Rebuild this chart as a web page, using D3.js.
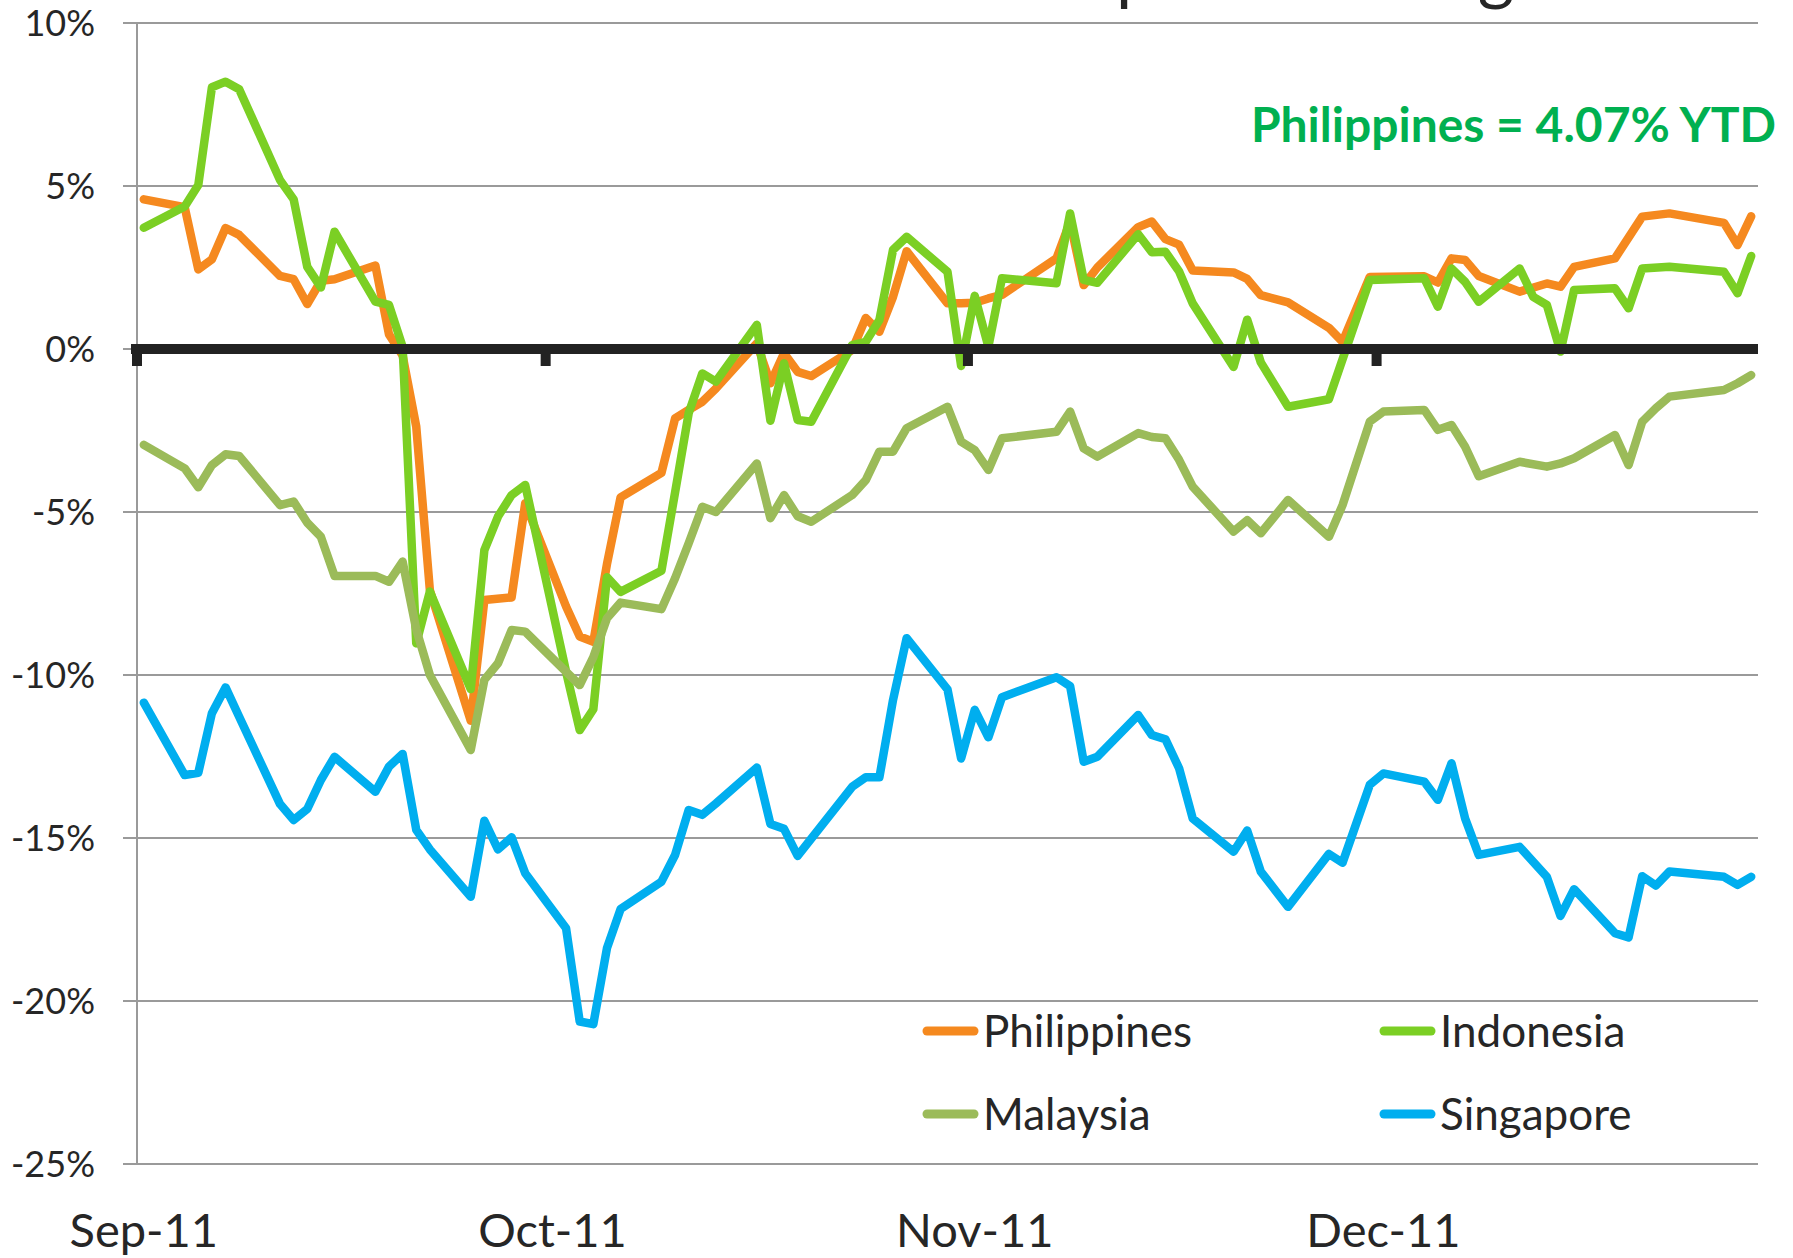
<!DOCTYPE html>
<html>
<head>
<meta charset="utf-8">
<script src="https://cdn.jsdelivr.net/npm/d3@7"></script>
<style>
  html, body { margin: 0; padding: 0; background: #ffffff; }
  svg { display: block; }
  text { font-family: Lato, "Open Sans", sans-serif; }
</style>
</head>
<body>
<svg id="chart" width="1793" height="1258"></svg>
<script>
// ---------------- DATA ----------------
const dates = [
  "2011-09-02","2011-09-05","2011-09-06","2011-09-07","2011-09-08","2011-09-09",
  "2011-09-12","2011-09-13","2011-09-14","2011-09-15","2011-09-16",
  "2011-09-19","2011-09-20","2011-09-21","2011-09-22","2011-09-23",
  "2011-09-26","2011-09-27","2011-09-28","2011-09-29","2011-09-30",
  "2011-10-03","2011-10-04","2011-10-05","2011-10-06","2011-10-07",
  "2011-10-10","2011-10-11","2011-10-12","2011-10-13","2011-10-14",
  "2011-10-17","2011-10-18","2011-10-19","2011-10-20","2011-10-21",
  "2011-10-24","2011-10-25","2011-10-26","2011-10-27","2011-10-28",
  "2011-10-31","2011-11-01","2011-11-02","2011-11-03","2011-11-04",
  "2011-11-07","2011-11-08","2011-11-09","2011-11-10","2011-11-11",
  "2011-11-14","2011-11-15","2011-11-16","2011-11-17","2011-11-18",
  "2011-11-21","2011-11-22","2011-11-23","2011-11-24","2011-11-25",
  "2011-11-28","2011-11-29","2011-11-30","2011-12-01","2011-12-02",
  "2011-12-05","2011-12-06","2011-12-07","2011-12-08","2011-12-09",
  "2011-12-12","2011-12-13","2011-12-14","2011-12-15","2011-12-16",
  "2011-12-19","2011-12-20","2011-12-21","2011-12-22","2011-12-23",
  "2011-12-27","2011-12-28","2011-12-29"
];

// values in % (null = no observation on that day)
const philippines = [
  4.59, 4.35, 2.44, 2.75, 3.71, 3.50,
  2.24, 2.14, 1.38, 2.09, 2.14,
  2.56, 0.45, -0.20, -2.38, -7.40,
  -11.40, -7.70, null, -7.62, -4.73,
  -7.90, -8.82, -8.98, -6.60, -4.55,
  -3.80, -2.13, -1.87, -1.62, -1.21,
  0.17, -1.05, -0.13, -0.70, -0.83,
  -0.03, 0.95, 0.53, 1.60, 3.00,
  1.40, 1.40, 1.42, 1.55, 1.66,
  null, 2.78, 3.90, 1.96, 2.50,
  3.74, 3.91, 3.37, 3.20, 2.41,
  2.35, 2.15, 1.65, null, 1.43,
  0.65, 0.22, null, 2.21, null,
  2.23, 2.04, 2.78, 2.73, 2.24,
  1.76, null, 2.01, 1.91, 2.52,
  2.78, null, 4.06, null, 4.16,
  3.87, 3.19, 4.07
];
const indonesia = [
  3.72, 4.37, 5.03, 8.03, 8.20, 7.97,
  5.18, 4.59, 2.52, 1.89, 3.60,
  1.45, 1.35, 0.07, -9.03, -7.44,
  -10.43, -6.17, -5.14, -4.48, -4.17,
  -9.90, -11.69, -11.05, -7.00, -7.45,
  -6.80, -4.40, -1.97, -0.75, -1.00,
  0.74, -2.20, -0.44, -2.18, -2.23,
  0.12, 0.22, 0.89, 3.04, 3.44,
  2.37, -0.52, 1.63, 0.07, 2.17,
  null, 2.02, 4.16, 2.12, 2.03,
  3.52, 2.97, 2.98, 2.38, 1.40,
  -0.55, 0.90, -0.41, null, -1.77,
  -1.54, null, null, 2.12, null,
  2.17, 1.30, 2.47, 2.06, 1.45,
  2.47, 1.60, 1.35, -0.08, 1.81,
  1.86, 1.25, 2.47, null, 2.52,
  2.37, 1.71, 2.85
];
const malaysia = [
  -2.94, -3.66, -4.24, -3.56, -3.23, -3.28,
  -4.79, -4.68, -5.33, -5.76, -6.96,
  -6.96, -7.14, -6.52, -8.60, -10.00,
  -12.30, -10.15, -9.64, -8.62, -8.67,
  null, -10.31, -9.45, -8.26, -7.78,
  -7.98, -7.03, -5.96, -4.84, -5.00,
  -3.51, -5.19, -4.48, -5.13, -5.30,
  -4.48, -4.02, -3.15, -3.15, -2.43,
  -1.77, -2.84, -3.10, -3.71, -2.74,
  null, -2.54, -1.92, -3.05, -3.30,
  -2.58, -2.70, -2.74, -3.40, -4.22,
  -5.60, -5.25, -5.65, null, -4.63,
  -5.76, -4.79, null, -2.23, -1.92,
  -1.87, -2.48, -2.33, -3.00, -3.90,
  -3.46, null, -3.61, -3.51, -3.35,
  -2.64, -3.56, -2.23, -1.82, -1.46,
  -1.26, -1.05, -0.80
];
const singapore = [
  -10.85, -13.07, -13.00, -11.17, -10.38, -11.28,
  -13.96, -14.45, -14.11, -13.22, -12.51,
  -13.58, -12.81, -12.42, -14.75, -15.35,
  -16.80, -14.47, -15.35, -14.98, -16.08,
  -17.77, -20.63, -20.71, -18.38, -17.18,
  -16.34, -15.52, -14.14, -14.29, -13.94,
  -12.84, -14.57, -14.72, -15.55, null,
  -13.43, -13.14, -13.14, -10.77, -8.87,
  -10.44, -12.56, -11.07, -11.91, -10.68,
  null, -10.07, -10.34, -12.66, -12.51,
  -11.23, -11.84, -11.97, -12.86, -14.40,
  -15.42, -14.77, -16.03, null, -17.11,
  -15.49, -15.76, null, -13.37, -13.02,
  -13.27, -13.83, -12.71, -14.40, -15.52,
  -15.27, -15.73, -16.19, -17.39, -16.57,
  -17.92, -18.05, -16.17, -16.46, -16.03,
  -16.19, -16.44, -16.19
];

const seriesNames = ["Philippines", "Indonesia", "Malaysia", "Singapore"];
const seriesValues = [philippines, indonesia, malaysia, singapore];
const seriesColors = ["#F5891F", "#7BCF24", "#9BBB59", "#00AEEF"];

const yTickValues = [10, 5, 0, -5, -10, -15, -20, -25];
const yTickLabels = ["10%", "5%", "0%", "-5%", "-10%", "-15%", "-20%", "-25%"];
const monthStarts = ["2011-09-01", "2011-10-01", "2011-11-01", "2011-12-01"];
const monthLabels = ["Sep-11", "Oct-11", "Nov-11", "Dec-11"];

const titleText = "Asia's Top Performing Market";
const noteText = "Philippines = 4.07% YTD";

// ---------------- CHART ----------------
const svg = d3.select("#chart");
const parse = d3.timeParse("%Y-%m-%d");
const HALF_DAY = 12 * 3600 * 1000;

const plot = { left: 137, right: 1758, top: 23, bottom: 1164 };

const x = d3.scaleTime()
  .domain([new Date(2011, 8, 1, 12), new Date(2011, 11, 29, 12)])
  .range([plot.left, plot.right]);
const y = d3.scaleLinear()
  .domain([-25, 10])
  .range([plot.bottom, plot.top]);

svg.append("rect").attr("width", 1793).attr("height", 1258).attr("fill", "#ffffff");

// title: cut off by the top edge in the original, only descenders show
const title = svg.append("text")
  .attr("y", -3)
  .attr("font-size", 70)
  .attr("fill", "#262626")
  .text(titleText);
{
  const idx = titleText.indexOf("p");
  const p0 = title.node().getStartPositionOfChar(idx).x;
  title.attr("x", 1116 - p0);
}

// horizontal gridlines (with outside tick stubs)
svg.append("g").selectAll("line")
  .data(yTickValues)
  .join("line")
  .attr("x1", plot.left - 14)
  .attr("x2", plot.right)
  .attr("y1", d => y(d))
  .attr("y2", d => y(d))
  .attr("stroke", "#9a9a9a")
  .attr("stroke-width", 2);

// vertical axis line
svg.append("line")
  .attr("x1", plot.left).attr("x2", plot.left)
  .attr("y1", plot.top).attr("y2", plot.bottom)
  .attr("stroke", "#9a9a9a").attr("stroke-width", 2);

// y tick labels
svg.append("g").selectAll("text")
  .data(yTickValues)
  .join("text")
  .attr("x", 95)
  .attr("y", d => y(d) + 13)
  .attr("text-anchor", "end")
  .attr("font-size", 36)
  .attr("fill", "#262626")
  .text((d, i) => yTickLabels[i]);

// series lines (Excel order: first series drawn first)
const line = d3.line()
  .x(d => x(d.date))
  .y(d => y(d.value));

seriesValues.forEach((vals, si) => {
  const pts = dates.map((ds, i) => ({ date: parse(ds), value: vals[i] }))
    .filter(d => d.value !== null);
  svg.append("path")
    .datum(pts)
    .attr("d", line)
    .attr("fill", "none")
    .attr("stroke", seriesColors[si])
    .attr("stroke-width", 8.5)
    .attr("stroke-linejoin", "round")
    .attr("stroke-linecap", "round");
});

// zero (category) axis: thick black line with month tick marks
svg.append("line")
  .attr("x1", plot.left - 6).attr("x2", plot.right)
  .attr("y1", y(0)).attr("y2", y(0))
  .attr("stroke", "#222222").attr("stroke-width", 10);

svg.append("g").selectAll("rect")
  .data(monthStarts)
  .join("rect")
  .attr("x", d => x(new Date(parse(d).getTime() + HALF_DAY)) - 5)
  .attr("y", y(0) + 4)
  .attr("width", 10)
  .attr("height", 13)
  .attr("fill", "#222222");

// month labels at the bottom
svg.append("g").selectAll("text")
  .data(monthStarts)
  .join("text")
  .attr("x", d => x(new Date(parse(d).getTime() + 2 * HALF_DAY)))
  .attr("y", 1247)
  .attr("text-anchor", "middle")
  .attr("font-size", 47)
  .attr("fill", "#262626")
  .text((d, i) => monthLabels[i]);

// annotation
svg.append("text")
  .attr("x", 1776)
  .attr("y", 142)
  .attr("text-anchor", "end")
  .attr("font-size", 48)
  .attr("font-weight", "bold")
  .attr("fill", "#00B050")
  .text(noteText);

// legend (2 x 2)
const legendCols = [927, 1384];
const legendRows = [1031, 1114];
const legend = svg.append("g");
seriesNames.forEach((name, i) => {
  const cx = legendCols[i % 2];
  const cy = legendRows[Math.floor(i / 2)];
  legend.append("line")
    .attr("x1", cx).attr("x2", cx + 47)
    .attr("y1", cy).attr("y2", cy)
    .attr("stroke", seriesColors[i])
    .attr("stroke-width", 9)
    .attr("stroke-linecap", "round");
  legend.append("text")
    .attr("x", cx + 56)
    .attr("y", cy + 16)
    .attr("font-size", 44)
    .attr("fill", "#262626")
    .text(name);
});
</script>
</body>
</html>
